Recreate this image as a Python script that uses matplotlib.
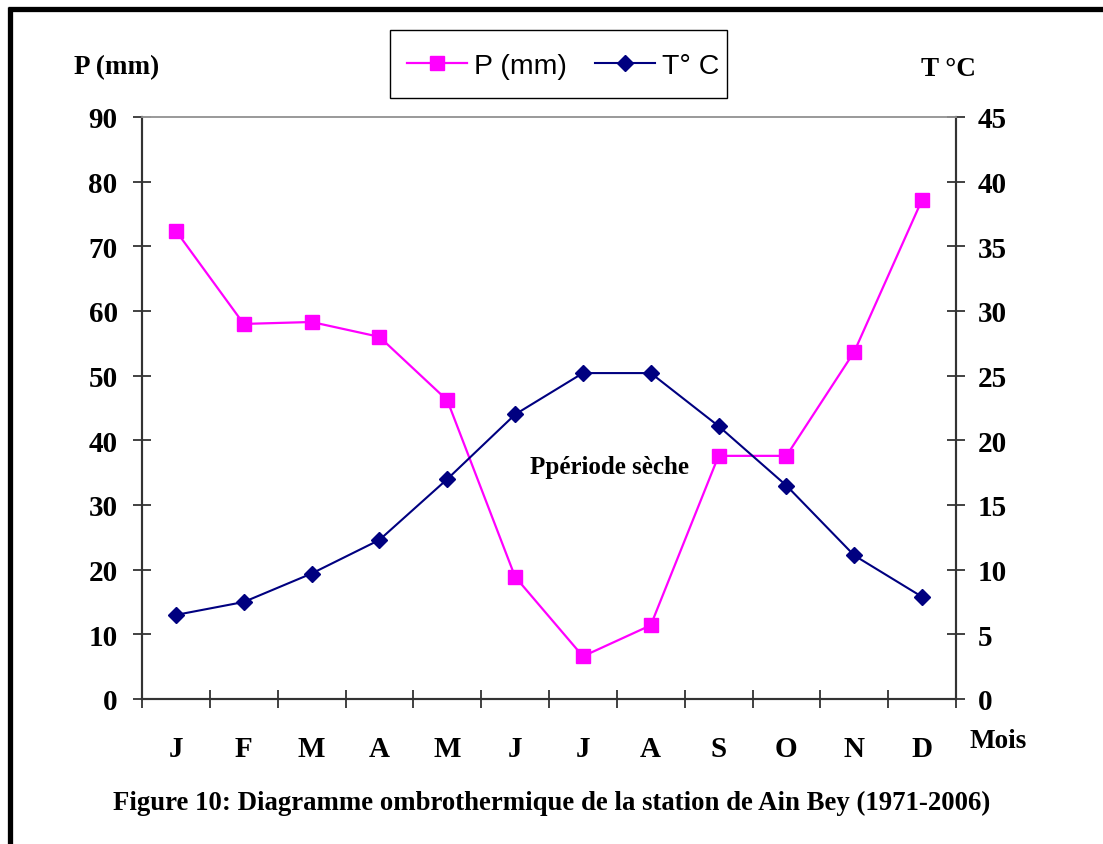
import matplotlib
matplotlib.use("Agg")
import matplotlib.pyplot as plt
from matplotlib.lines import Line2D
from matplotlib.patches import Rectangle
import numpy as np

mois = ["J", "F", "M", "A", "M", "J", "J", "A", "S", "O", "N", "D"]
precip = [72.4, 58.0, 58.3, 56.0, 46.2, 18.9, 6.6, 11.4, 37.6, 37.6, 53.7, 77.2]
temp = [6.5, 7.5, 9.7, 12.3, 17.0, 22.0, 25.2, 25.2, 21.1, 16.5, 11.1, 7.9]

serif = "Liberation Serif"
sans = "Liberation Sans"
magenta = "#FF00FF"
navy = "#000080"

fig = plt.figure(figsize=(11.03, 8.45), dpi=100)
ax = fig.add_axes([142 / 1103, 1 - 700 / 845, 814 / 1103, 582 / 845])
ax2 = ax.twinx()

x = np.arange(len(mois)) + 0.5
lp, = ax.plot(x, precip, color=magenta, lw=1.6, marker="s", ms=9.5, mec=magenta, mfc=magenta)
lt, = ax2.plot(x, temp, color=navy, lw=1.5, marker="D", ms=8, mec=navy, mfc=navy)

ax.set_xlim(0, 12)
ax.set_ylim(0, 90)
ax2.set_ylim(0, 45)
ax.set_yticks(range(0, 91, 10))
ax2.set_yticks(range(0, 46, 5))

# months sit between the separator ticks
ax.set_xticks(range(0, 13))
ax.set_xticklabels([])
ax.set_xticks(x, minor=True)
ax.set_xticklabels(mois, minor=True)
ax.tick_params(axis="x", which="major", direction="inout", length=13, width=1.3, color="#333333")
ax.tick_params(axis="x", which="minor", length=0, pad=26)
ax.tick_params(axis="y", direction="inout", length=13, width=1.3, color="#333333", pad=11)
ax2.tick_params(axis="y", direction="inout", length=13, width=1.3, color="#333333", pad=9)

for lab in ax.get_xticklabels(minor=True) + ax.get_yticklabels() + ax2.get_yticklabels():
    lab.set_fontfamily(serif)
    lab.set_fontweight("bold")
    lab.set_fontsize(21)

for a in (ax, ax2):
    for side in ("left", "bottom", "right"):
        a.spines[side].set_color("#333333")
        a.spines[side].set_linewidth(1.5)
    a.spines["top"].set_color("#999999")
    a.spines["top"].set_linewidth(1.2)

fig.text(610 / 1103, 1 - 468 / 845, "Ppériode sèche", fontfamily=serif, fontweight="bold",
         fontsize=18, ha="center", va="center")

fig.text(117 / 1103, 1 - 68 / 845, "P (mm)", fontfamily=serif, fontweight="bold",
         fontsize=19.5, ha="center", va="center")
fig.text(948 / 1103, 1 - 70 / 845, "T °C", fontfamily=serif, fontweight="bold",
         fontsize=19.5, ha="center", va="center")
fig.text(998 / 1103, 1 - 742 / 845, "Mois", fontfamily=serif, fontweight="bold",
         fontsize=19.5, ha="center", va="center")
fig.text(552 / 1103, 1 - 803 / 845,
         "Figure 10: Diagramme ombrothermique de la station de Ain Bey (1971-2006)",
         fontfamily=serif, fontweight="bold", fontsize=19.3, ha="center", va="center")

# legend with its box drawn separately
h1 = Line2D([], [], color=magenta, lw=1.6, marker="s", ms=9.5, mec=magenta, mfc=magenta)
h2 = Line2D([], [], color=navy, lw=1.5, marker="D", ms=8, mec=navy, mfc=navy)
fig.legend([h1, h2], ["P (mm)", "T° C"], loc="center left",
           bbox_to_anchor=(407 / 1103, 1 - 67 / 845), ncol=2, frameon=False,
           prop={"family": sans, "size": 20.5}, handlelength=2.1,
           handletextpad=0.25, columnspacing=1.0, borderpad=0, borderaxespad=0)
fig.add_artist(Rectangle((390 / 1103, 1 - 99 / 845), 337 / 1103, 68 / 845,
                         transform=fig.transFigure, fill=False, edgecolor="black", lw=1.0))

# page frame, left and top edges only
fig.add_artist(Line2D([10 / 1103, 10 / 1103], [0, 1 - 8 / 845], color="black", lw=3.8,
                      transform=fig.transFigure, solid_capstyle="butt"))
fig.add_artist(Line2D([8 / 1103, 1], [1 - 10 / 845, 1 - 10 / 845], color="black", lw=3.8,
                      transform=fig.transFigure, solid_capstyle="butt"))

fig.savefig("out.png", dpi=100)
